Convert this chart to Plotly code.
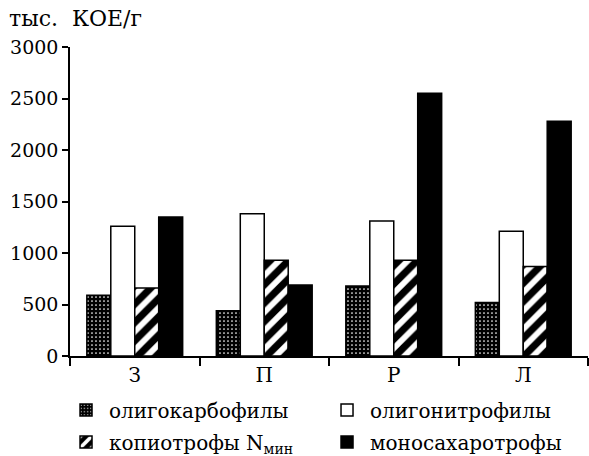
import plotly.graph_objects as go

categories = ["З", "П", "Р", "Л"]
oligocarbophiles = [590, 440, 680, 520]
oligonitrophiles = [1260, 1380, 1310, 1210]
copiotrophs = [660, 930, 930, 870]
monosaccharotrophs = [1350, 690, 2550, 2280]
y_ticks = [0, 500, 1000, 1500, 2000, 2500, 3000]

FONT = "DejaVu Serif"

fig = go.Figure()
line = dict(color="black", width=1.5)
fig.add_bar(x=categories, y=oligocarbophiles, name="олигокарбофилы", legend="legend",
            marker=dict(color="black", line=line,
                        pattern=dict(shape=".", fgcolor="white", bgcolor="black",
                                     size=4, solidity=0.15, fillmode="replace")))
fig.add_bar(x=categories, y=oligonitrophiles, name="олигонитрофилы", legend="legend",
            marker=dict(color="white", line=line))
fig.add_bar(x=categories, y=copiotrophs, name="копиотрофы N<sub>мин</sub>", legend="legend2",
            marker=dict(color="black", line=line,
                        pattern=dict(shape="/", fgcolor="white", bgcolor="black",
                                     size=13, solidity=0.45, fillmode="replace")))
fig.add_bar(x=categories, y=monosaccharotrophs, name="моносахаротрофы", legend="legend2",
            marker=dict(color="black", line=line))

leg = dict(orientation="h", x=0.107, xref="container", yref="container",
           xanchor="left", yanchor="middle", itemwidth=36,
           entrywidth=210, entrywidthmode="pixels",
           font=dict(size=20), traceorder="normal", bgcolor="rgba(0,0,0,0)")

fig.update_layout(
    width=589, height=456,
    margin=dict(l=70, r=1, t=47, b=100),
    plot_bgcolor="white", paper_bgcolor="white",
    font=dict(family=FONT, size=18, color="black"),
    bargap=0.26, bargroupgap=0,
    showlegend=True,
    legend=dict(leg, y=1 - 410 / 456),
    legend2=dict(leg, y=1 - 442 / 456),
    annotations=[dict(text="тыс.  КОЕ/г", x=0, y=1, xref="paper", yref="paper",
                      xshift=-63, yshift=29, xanchor="left", yanchor="middle",
                      showarrow=False, font=dict(size=22))],
)
fig.update_xaxes(showline=True, linecolor="black", linewidth=1.5,
                 ticks="outside", tickson="boundaries", ticklen=8, tickwidth=1.5,
                 tickcolor="black", range=[-0.5, 3.5], showgrid=False,
                 tickfont=dict(size=20))
fig.update_yaxes(showline=True, linecolor="black", linewidth=1.5,
                 ticks="outside", ticklen=6, tickwidth=1.5, tickcolor="black",
                 range=[0, 3000], tickvals=y_ticks, showgrid=False, zeroline=False,
                 tickfont=dict(size=19))

fig.write_html("out.html")
